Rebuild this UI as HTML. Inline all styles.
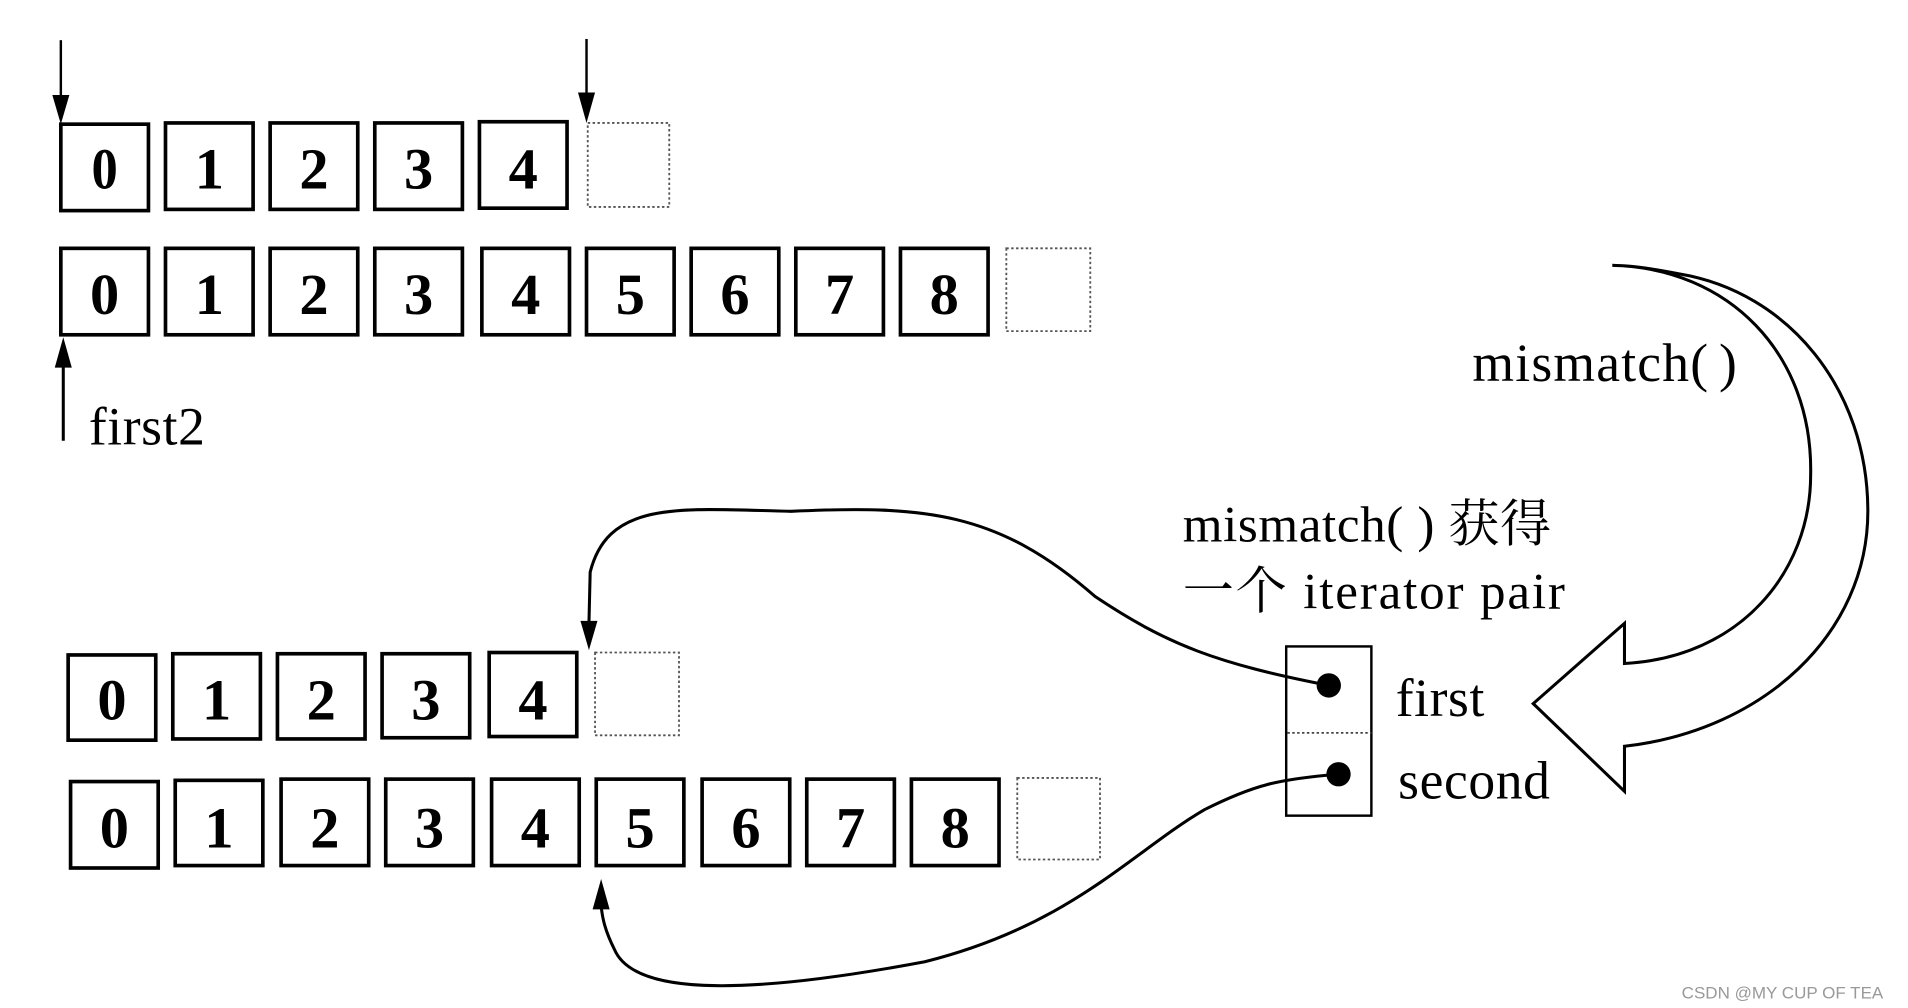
<!DOCTYPE html>
<html><head><meta charset="utf-8"><style>
html,body{margin:0;padding:0;background:#fff;width:1908px;height:1008px;overflow:hidden}
svg{display:block}
.d{font-family:"Liberation Serif",serif;font-weight:bold;font-size:48px;text-anchor:middle}
.t{font-family:"Liberation Serif","Noto Serif CJK SC",serif;font-size:42px;letter-spacing:0.5px}
.b{fill:#fff;stroke:#000;stroke-width:3}
.e{fill:none;stroke:#555;stroke-width:1.5;stroke-dasharray:2 2}
</style></head><body>
<svg width="1908" height="1008" viewBox="0 0 1568 828" preserveAspectRatio="none">
<g transform="translate(0,0)">
<rect class="b" x="50" y="102" width="72" height="71"/><text class="d" x="86" y="155" transform="translate(86 0) scale(0.9 1) translate(-86 0)">0</text>
<rect class="b" x="136" y="101" width="72" height="71"/><text class="d" x="172" y="155">1</text>
<rect class="b" x="222" y="101" width="72" height="71"/><text class="d" x="258" y="155">2</text>
<rect class="b" x="308" y="101" width="72" height="71"/><text class="d" x="344" y="155">3</text>
<rect class="b" x="394" y="100" width="72" height="71"/><text class="d" x="430" y="155">4</text>
<rect class="e" x="483" y="101" width="67" height="69"/>
</g>
<g>
<rect class="b" x="50" y="204" width="72" height="71"/><text class="d" x="86" y="258">0</text>
<rect class="b" x="136" y="204" width="72" height="71"/><text class="d" x="172" y="258">1</text>
<rect class="b" x="222" y="204" width="72" height="71"/><text class="d" x="258" y="258">2</text>
<rect class="b" x="308" y="204" width="72" height="71"/><text class="d" x="344" y="258">3</text>
<rect class="b" x="396" y="204" width="72" height="71"/><text class="d" x="432" y="258">4</text>
<rect class="b" x="482" y="204" width="72" height="71"/><text class="d" x="518" y="258">5</text>
<rect class="b" x="568" y="204" width="72" height="71"/><text class="d" x="604" y="258">6</text>
<rect class="b" x="654" y="204" width="72" height="71"/><text class="d" x="690" y="258">7</text>
<rect class="b" x="740" y="204" width="72" height="71"/><text class="d" x="776" y="258">8</text>
<rect class="e" x="827" y="204" width="69" height="68"/>
</g>
<line x1="50" y1="33" x2="50" y2="80" stroke="#000" stroke-width="2"/><path d="M43,78 L57,78 L50,102Z"/>
<line x1="482" y1="32" x2="482" y2="78" stroke="#000" stroke-width="2"/><path d="M475,76 L489,76 L482,101Z"/>
<line x1="52" y1="362" x2="52" y2="300" stroke="#000" stroke-width="2.5"/><path d="M45,302 L59,302 L52,277Z"/>
<text class="t" x="73" y="365" style="font-size:44px">first2</text>
<g>
<rect class="b" x="56" y="538" width="72" height="70"/><text class="d" x="92" y="591">0</text>
<rect class="b" x="142" y="537" width="72" height="70"/><text class="d" x="178" y="591">1</text>
<rect class="b" x="228" y="537" width="72" height="70"/><text class="d" x="264" y="591">2</text>
<rect class="b" x="314" y="537" width="72" height="69"/><text class="d" x="350" y="591">3</text>
<rect class="b" x="402" y="536" width="72" height="69"/><text class="d" x="438" y="591">4</text>
<rect class="e" x="489" y="536" width="69" height="68"/>
</g>
<g>
<rect class="b" x="58" y="642" width="72" height="71"/><text class="d" x="94" y="696">0</text>
<rect class="b" x="144" y="641" width="72" height="70"/><text class="d" x="180" y="696">1</text>
<rect class="b" x="231" y="640" width="72" height="71"/><text class="d" x="267" y="696">2</text>
<rect class="b" x="317" y="640" width="72" height="71"/><text class="d" x="353" y="696">3</text>
<rect class="b" x="404" y="640" width="72" height="71"/><text class="d" x="440" y="696">4</text>
<rect class="b" x="490" y="640" width="72" height="71"/><text class="d" x="526" y="696">5</text>
<rect class="b" x="577" y="640" width="72" height="71"/><text class="d" x="613" y="696">6</text>
<rect class="b" x="663" y="640" width="72" height="71"/><text class="d" x="699" y="696">7</text>
<rect class="b" x="749" y="640" width="72" height="71"/><text class="d" x="785" y="696">8</text>
<rect class="e" x="836" y="639" width="68" height="67"/>
</g>
<path d="M1092,563 C1000,545 960,530 900,490 C820,420 760,415 650,420 C560,418 500,410 485,470 L484,512" fill="none" stroke="#000" stroke-width="2.5"/>
<path d="M477,510 L491,510 L484,534Z"/>
<path d="M1100,636 C1050,640 1030,645 990,665 C930,700 880,760 760,790 C600,820 520,815 505,780 C495,760 495,750 494,745" fill="none" stroke="#000" stroke-width="2.5"/>
<path d="M487,747 L501,747 L494,722Z"/>
<rect x="1057" y="531" width="70" height="139" fill="none" stroke="#000" stroke-width="2"/>
<line x1="1058" y1="602" x2="1127" y2="602" stroke="#444" stroke-width="1.5" stroke-dasharray="2 2"/>
<circle cx="1092" cy="563" r="10"/><circle cx="1100" cy="636" r="10"/>
<text class="t" x="1147" y="588" style="font-size:44px">first</text>
<text class="t" x="1149" y="656" style="font-size:44px">second</text>
<text class="t" x="1210" y="313" style="font-size:44px;letter-spacing:1px">mismatch(<tspan dx="8">)</tspan></text>
<text class="t" x="972" y="445">mismatch( ) 获得</text>
<text class="t" x="972" y="500" style="letter-spacing:1.5px">一个 iterator pair</text>
<path d="M1325,218 C1420,220 1490,290 1488,390 C1488,470 1430,540 1335,545 L1335,512 L1260,578 L1335,650 L1335,613 C1450,600 1535,520 1535,420 C1535,320 1470,240 1380,225 C1360,221 1340,218 1325,218 Z" fill="#fff" stroke="#000" stroke-width="2.5" stroke-linejoin="miter"/>
<text x="1382" y="820" font-family="Liberation Sans,sans-serif" font-size="14" fill="#999">CSDN @MY CUP OF TEA</text>
</svg>
</body></html>
